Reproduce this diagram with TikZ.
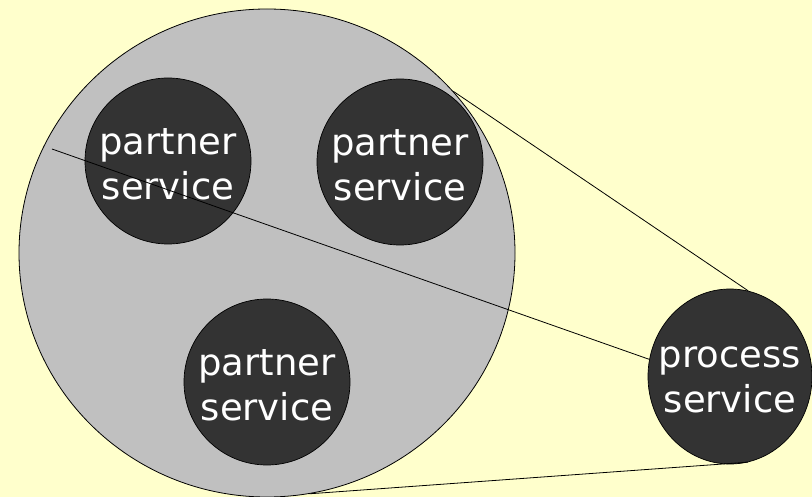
\documentclass[tikz,border=0pt]{standalone}
\usepackage{fontspec}
\setmainfont{DejaVu Sans}
\usetikzlibrary{shapes.geometric}
\definecolor{bgyellow}{HTML}{FFFFCC}
\definecolor{groupgray}{HTML}{C0C0C0}
\definecolor{svcdark}{HTML}{333333}
\tikzset{
  svctext/.style={text=white, align=center, inner sep=0pt, yshift=-3pt,
    font=\fontsize{37}{45}\selectfont},
  svc/.style={draw=black, line width=0.7pt, fill=svcdark, ellipse, inner sep=0pt},
  grp/.style={draw=black, line width=0.8pt, fill=groupgray, ellipse, inner sep=0pt},
  link/.style={draw=black, line width=0.8pt}
}
\begin{document}
\begin{tikzpicture}[x=1pt,y=-1pt]
  \fill[bgyellow] (0,0) rectangle (812,497);
  \useasboundingbox (0,0) rectangle (812,497);
  \node[grp, minimum width=496pt, minimum height=488pt] (group) at (267,253) {};
  \node[svc, minimum width=166pt, minimum height=166pt,
        label={[svctext]center:partner\\service}] (p1) at (168,161) {};
  \node[svc, minimum width=166pt, minimum height=166pt,
        label={[svctext]center:partner\\service}] (p2) at (400,162) {};
  \node[svc, minimum width=166pt, minimum height=166pt,
        label={[svctext]center:partner\\service}] (p3) at (267,382) {};
  \node[svc, minimum width=164pt, minimum height=175pt,
        label={[svctext]center:process\\service}] (proc) at (730,376.5) {};
  \coordinate (start) at (52,149);
  \draw[link] (start) -- (proc.168);
  \draw[link] (group.41.6) -- (proc.78);
  \draw[link] (group.-80) -- (proc.-78);
\end{tikzpicture}
\end{document}
